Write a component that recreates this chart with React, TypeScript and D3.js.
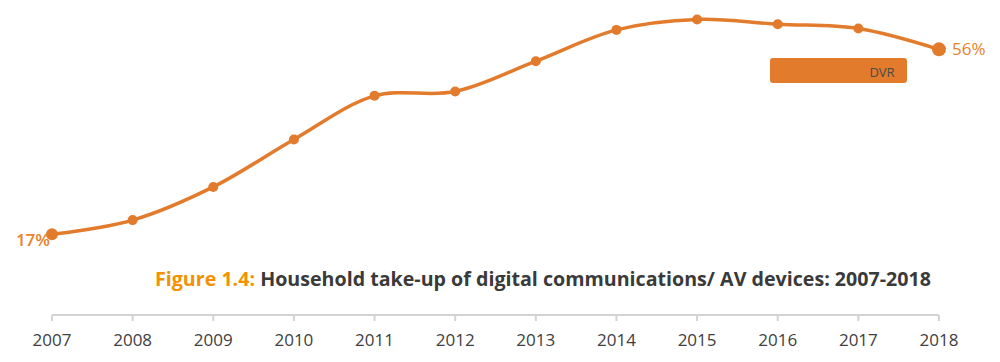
import React, { useEffect, useRef } from 'react';
import * as d3 from 'd3';

const years = ['2007', '2008', '2009', '2010', '2011', '2012', '2013', '2014', '2015', '2016', '2017', '2018'];
const dvrValues = [17, 20, 27, 37, 46.2, 47.1, 53.5, 60.1, 62.3, 61.3, 60.4, 56];
const seriesName = 'DVR';
const titlePrefix = 'Figure 1.4:';
const titleText = ' Household take-up of digital communications/ AV devices: 2007-2018';

const size = { width: 1000, height: 362 };
const orange = '#E27B2C';

function App() {
  const ref = useRef<SVGSVGElement>(null);

  useEffect(() => {
    const svg = d3.select(ref.current);
    svg.selectAll('*').remove();

    // scales: 0% sits on the axis line
    const x = d3.scalePoint<string>().domain(years).range([52, 939]);
    const y = d3.scaleLinear().domain([0, 100]).range([315, -159.4]);

    // x axis
    const axis = svg.append('g').attr('transform', 'translate(0,315)');
    axis.append('line')
      .attr('x1', x(years[0])!).attr('x2', x(years[years.length - 1])!)
      .attr('stroke', '#d3d3d3').attr('stroke-width', 2);
    axis.selectAll('line.tick')
      .data(years)
      .enter().append('line')
      .attr('class', 'tick')
      .attr('x1', (d) => x(d)!).attr('x2', (d) => x(d)!)
      .attr('y1', 0).attr('y2', 6)
      .attr('stroke', '#d3d3d3').attr('stroke-width', 2);
    axis.selectAll('text')
      .data(years)
      .enter().append('text')
      .attr('x', (d) => x(d)!)
      .attr('y', 31)
      .attr('text-anchor', 'middle')
      .style('font', '17px "Open Sans", sans-serif')
      .style('fill', '#404040')
      .text((d) => d);

    // title
    const title = svg.append('text')
      .attr('x', 155)
      .attr('y', 286)
      .attr('textLength', 776)
      .attr('lengthAdjust', 'spacingAndGlyphs')
      .style('font', 'bold 20px "Open Sans", sans-serif');
    title.append('tspan').style('fill', '#F39200').text(titlePrefix);
    title.append('tspan').style('fill', '#3a3a3a').text(titleText);

    // line
    const line = d3.line<number>()
      .x((d, i) => x(years[i])!)
      .y((d) => y(d))
      .curve(d3.curveCatmullRom.alpha(0.5));

    svg.append('path')
      .datum(dvrValues)
      .attr('d', line)
      .attr('fill', 'none')
      .attr('stroke', orange)
      .attr('stroke-width', 3.5);

    svg.selectAll('circle.dot')
      .data(dvrValues)
      .enter().append('circle')
      .attr('class', 'dot')
      .attr('cx', (d, i) => x(years[i])!)
      .attr('cy', (d) => y(d))
      .attr('r', (d, i) => (i === dvrValues.length - 1 ? 7 : i === 0 ? 6 : 5))
      .attr('fill', orange);

    // end labels
    svg.append('text')
      .attr('x', x(years[0])! - 2)
      .attr('y', y(dvrValues[0]) + 12)
      .attr('text-anchor', 'end')
      .style('font', '600 17px "Open Sans", sans-serif')
      .style('fill', '#E8822A')
      .text(dvrValues[0] + '%');

    svg.append('text')
      .attr('x', x(years[years.length - 1])! + 13)
      .attr('y', y(dvrValues[dvrValues.length - 1]) + 6)
      .style('font', '17px "Open Sans", sans-serif')
      .style('fill', '#E8822A')
      .text(dvrValues[dvrValues.length - 1] + '%');

    // legend
    svg.append('rect')
      .attr('x', 770).attr('y', 58)
      .attr('width', 137).attr('height', 25)
      .attr('rx', 3)
      .attr('fill', orange);
    svg.append('text')
      .attr('x', 882).attr('y', 77)
      .attr('text-anchor', 'middle')
      .style('font', '13px "Open Sans", sans-serif')
      .style('fill', '#4a4a4a')
      .text(seriesName);
  }, []);

  return (
    <div style={{ position: 'absolute', left: 0, top: 0 }}>
      <svg ref={ref} width={size.width} height={size.height} style={{ display: 'block' }} />
    </div>
  );
}

export default App;
